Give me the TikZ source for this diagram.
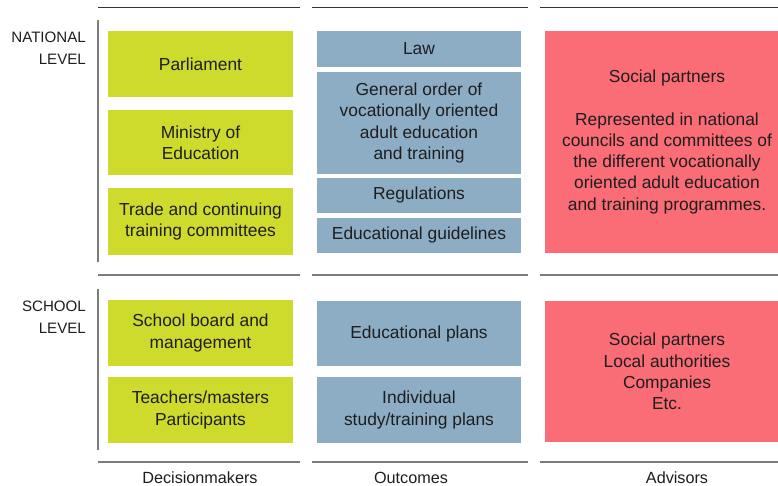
\documentclass[tikz,border=0pt]{standalone}
\usepackage{fontspec}
\setmainfont{Liberation Sans}
\definecolor{deciGreen}{RGB}{206,219,44}
\definecolor{outBlue}{RGB}{140,173,196}
\definecolor{advRed}{RGB}{250,108,118}
\definecolor{ruleDark}{RGB}{50,50,50}
\definecolor{ruleGrey}{RGB}{125,125,125}
\definecolor{textDark}{RGB}{30,30,30}

\tikzset{
  cell/.style={inner sep=0pt,align=center,text=textDark,font=\fontsize{17.4}{21.3}\selectfont},
  deci/.style={cell,fill=deciGreen,minimum width=185pt},
  outc/.style={cell,fill=outBlue,minimum width=204pt},
  advi/.style={cell,fill=advRed,minimum width=244pt},
  levelname/.style={anchor=east,inner sep=0pt,align=right,text=textDark,font=\fontsize{15.1}{21.5}\selectfont},
  colname/.style={text=textDark,font=\fontsize{16.2}{18}\selectfont},
  toprule/.style={ruleDark,line width=1pt},
  midrule/.style={ruleGrey,line width=1.4pt}
}

\begin{document}
\begin{tikzpicture}[x=1pt,y=-1pt]

% fixed canvas, 778 x 486 (pixel grid, y downwards)
\clip (0,0) rectangle (778,486);
\fill[white] (0,0) rectangle (778,486);

% column rules: top, between the levels, bottom
\draw[toprule] (98,8) -- (300,8);
\draw[toprule] (312,8) -- (528,8);
\draw[toprule] (540,8) -- (778,8);
\draw[midrule] (98,275) -- (300,275);
\draw[midrule] (312,275) -- (528,275);
\draw[midrule] (540,275) -- (778,275);
\draw[midrule] (98,462) -- (300,462);
\draw[midrule] (312,462) -- (528,462);
\draw[midrule] (540,462) -- (778,462);

% level brackets
\draw[midrule] (98,20) -- (98,262);
\draw[midrule] (98,289) -- (98,450);

% level names
\node[levelname] (national) at (86,48) {NATIONAL\\LEVEL};
\node[levelname] (school) at (86,317) {SCHOOL\\LEVEL};

% decisionmakers
\node[deci,minimum height=66pt] (parliament) at (200.5,64) {Parliament};
\node[deci,minimum height=65pt] (ministry) at (200.5,142.5) {Ministry of\\Education};
\node[deci,minimum height=67pt] (trade) at (200.5,221.5) {Trade and continuing\\training committees};
\node[deci,minimum height=66pt] (board) at (200.5,333) {School board and\\management};
\node[deci,minimum height=66pt] (teachers) at (200.5,410) {Teachers/masters\\Participants};

% outcomes
\node[outc,minimum height=36pt] (law) at (419,49) {Law};
\node[outc,minimum height=102pt] (order) at (419,123) {General order of\\vocationally oriented\\adult education\\and training};
\node[outc,minimum height=35pt] (regulations) at (419,195.5) {Regulations};
\node[outc,minimum height=35pt] (guidelines) at (419,235.5) {Educational guidelines};
\node[outc,minimum height=65pt] (eduplans) at (419,333.5) {Educational plans};
\node[outc,minimum height=66pt] (studyplans) at (419,410) {Individual\\study/training plans};

% advisors (box runs off the right edge)
\node[advi,minimum height=222pt] (natpartners) at (667,142) {Social partners\\[21pt]Represented in national\\councils and committees of\\the different vocationally\\oriented adult education\\and training programmes.};
\node[advi,minimum height=141pt] (schpartners) at (667,371.5) {Social partners\\Local authorities\\Companies\\Etc.};

% column names
\node[colname] (colDeci) at (200,478) {Decisionmakers};
\node[colname] (colOut) at (411,478) {Outcomes};
\node[colname] (colAdv) at (677,478) {Advisors};

\end{tikzpicture}
\end{document}
